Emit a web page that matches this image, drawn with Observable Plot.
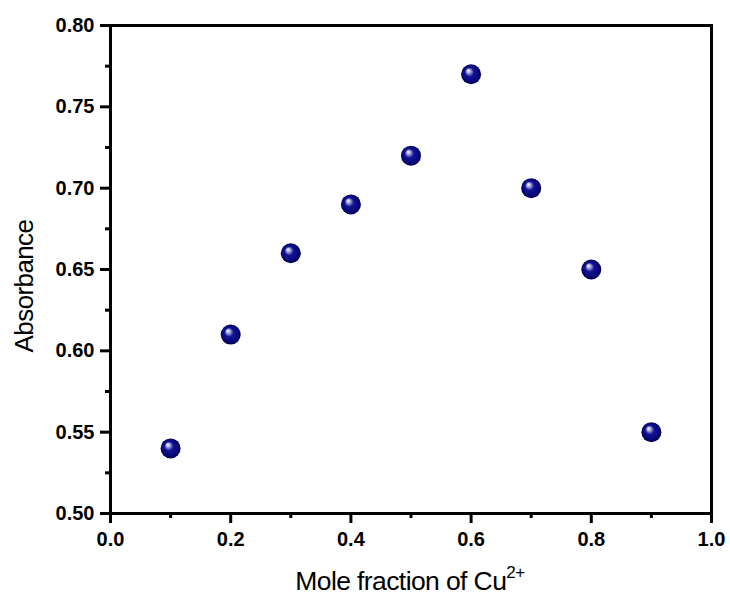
<!DOCTYPE html>
<html>
<head>
<meta charset="utf-8">
<script src="https://cdn.jsdelivr.net/npm/d3@7"></script>
<script src="https://cdn.jsdelivr.net/npm/@observablehq/plot@0.6"></script>
<style>
  body { margin: 0; background: #fff; }
  svg { font-family: "Liberation Sans", Arial, sans-serif; }
</style>
</head>
<body>
<div id="chart"></div>
<script>
const moleFraction = [0.1, 0.2, 0.3, 0.4, 0.5, 0.6, 0.7, 0.8, 0.9];
const absorbance = [0.54, 0.61, 0.66, 0.69, 0.72, 0.77, 0.70, 0.65, 0.55];
const xMajorTicks = [0, 0.2, 0.4, 0.6, 0.8, 1.0];
const xMinorTicks = [0.1, 0.3, 0.5, 0.7, 0.9];
const yMajorTicks = [0.50, 0.55, 0.60, 0.65, 0.70, 0.75, 0.80];
const yMinorTicks = [0.525, 0.575, 0.625, 0.675, 0.725, 0.775];
const xTitle = "Mole fraction of Cu";
const xTitleSup = "2+";
const yTitle = "Absorbance";

const data = moleFraction.map((x, i) => ({x, y: absorbance[i]}));

const plot = Plot.plot({
  width: 730,
  height: 600,
  marginLeft: 110,
  marginRight: 19,
  marginTop: 25,
  marginBottom: 87,
  style: {fontFamily: "'Liberation Sans', Arial, sans-serif", background: "#fff"},
  x: {domain: [0, 1]},
  y: {domain: [0.5, 0.8]},
  marks: [
    Plot.axisX(xMinorTicks, {tickSize: 5, strokeWidth: 3, text: null, label: null}),
    Plot.axisX(xMajorTicks, {tickSize: 10, strokeWidth: 3, tickFormat: d => d.toFixed(1),
      fontSize: 20, fontWeight: "bold", tickPadding: 8, label: null, fill: "#000"}),
    Plot.axisY(yMinorTicks, {tickSize: 5, strokeWidth: 3, text: null, label: null}),
    Plot.axisY(yMajorTicks, {tickSize: 10, strokeWidth: 3, tickFormat: d => d.toFixed(2),
      fontSize: 20, fontWeight: "bold", tickPadding: 6, label: null, fill: "#000"}),
    Plot.frame({stroke: "#000", strokeWidth: 3}),
    Plot.dot(data, {x: "x", y: "y", r: 10, fill: "url(#sphere)", stroke: null})
  ]
});

const svg = d3.select(plot);
const defs = svg.insert("defs", ":first-child");
const grad = defs.append("radialGradient")
  .attr("id", "sphere")
  .attr("cx", "0.5").attr("cy", "0.5").attr("r", "0.5")
  .attr("fx", "0.35").attr("fy", "0.3");
grad.append("stop").attr("offset", "0%").attr("stop-color", "#ffffff");
grad.append("stop").attr("offset", "18%").attr("stop-color", "#b0b0e4");
grad.append("stop").attr("offset", "45%").attr("stop-color", "#121294");
grad.append("stop").attr("offset", "80%").attr("stop-color", "#08087a");
grad.append("stop").attr("offset", "100%").attr("stop-color", "#00004a");

// x-axis title with superscript
const xt = svg.append("text")
  .attr("x", 410).attr("y", 590)
  .attr("text-anchor", "middle")
  .attr("font-size", 26.5)
  .attr("letter-spacing", -0.6)
  .attr("fill", "#000");
xt.append("tspan").text(xTitle);
xt.append("tspan").attr("font-size", 17).attr("dy", -12).attr("letter-spacing", -0.5).text(xTitleSup);

// y-axis title
svg.append("text")
  .attr("transform", "translate(33,286) rotate(-90)")
  .attr("text-anchor", "middle")
  .attr("font-size", 26)
  .attr("letter-spacing", -0.6)
  .attr("fill", "#000")
  .text(yTitle);

document.getElementById("chart").appendChild(plot);
</script>
</body>
</html>
